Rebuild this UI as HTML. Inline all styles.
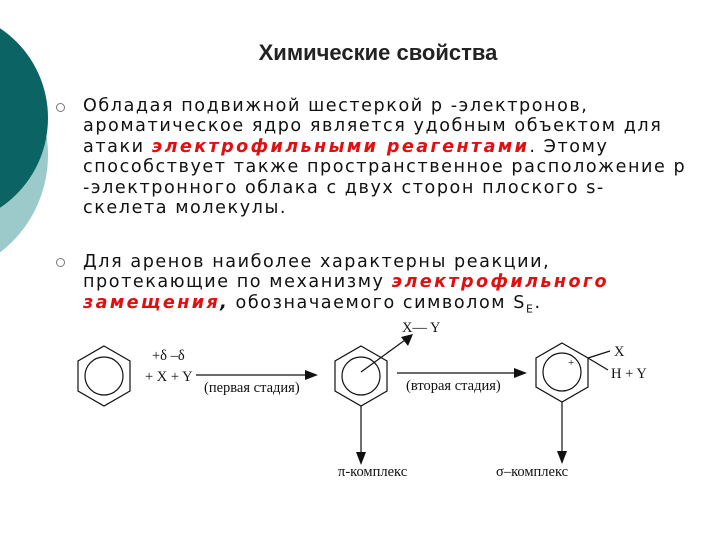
<!DOCTYPE html>
<html><head><meta charset="utf-8"><style>
body{margin:0;width:720px;height:540px;background:#fff;overflow:hidden;position:relative;font-family:"DejaVu Sans",Verdana,sans-serif}
.t{position:absolute;left:0;top:40px;width:756px;text-align:center;font:bold 22px "Liberation Sans",Arial,sans-serif;color:#222}
.p{position:absolute;left:83px;font-size:17.6px;line-height:20.4px;color:#111;white-space:pre;letter-spacing:1.55px}
.r{color:#e01010;font-weight:bold;font-style:italic;letter-spacing:2.4px}
.b{position:absolute;left:56px;width:7px;height:7px;border:1px solid #777;border-radius:50%}
svg{position:absolute;left:0;top:0}
</style></head><body>
<svg width="720" height="540">
<circle cx="-75" cy="155" r="123" fill="#9cc9c9"/>
<circle cx="-60" cy="118" r="108" fill="#0b6463"/>
<g fill="none" stroke="#111" stroke-width="1.2">
<polygon points="104,346 130,361 130,391 104,406 78,391 78,361"/>
<circle cx="104" cy="376" r="19"/>
<polygon points="361,346 387,361 387,391 361,406 335,391 335,361"/>
<circle cx="361" cy="376" r="19"/>
<polygon points="562,343 588,358 588,387 562,402 536,387 536,358"/>
<circle cx="562" cy="372" r="19"/>
<line x1="196" y1="375" x2="308" y2="375"/>
<line x1="397" y1="373" x2="518" y2="373"/>
<line x1="361" y1="372" x2="405" y2="340"/>
<line x1="361" y1="406" x2="361" y2="456"/>
<line x1="562" y1="402" x2="562" y2="455"/>
<line x1="588" y1="358" x2="610" y2="351"/>
<line x1="588" y1="358" x2="608" y2="370"/>
</g>
<g fill="#111">
<polygon points="318,375 305,370 305,380"/>
<polygon points="527,373 514,368 514,378"/>
<polygon points="413,334 401,337 408,346"/>
<polygon points="361,465 356,452 366,452"/>
<polygon points="562,464 557,451 567,451"/>
</g>
<g font-family="Liberation Serif,serif" font-size="14.5" fill="#111">
<text x="152" y="360">+δ  –δ</text>
<text x="145" y="381">+ X + Y</text>
<text x="204" y="392">(первая стадия)</text>
<text x="406" y="390">(вторая стадия)</text>
<text x="402" y="332">X— Y</text>
<text x="614" y="356">X</text>
<text x="611" y="378">H + Y</text>
<text x="338" y="476">π-комплекс</text>
<text x="496" y="476">σ–комплекс</text>
<text x="568" y="366" font-size="11">+</text>
</g>
</svg>
<div class="t">Химические свойства</div>
<div class="b" style="top:103px"></div>
<div class="b" style="top:258px"></div>
<div class="p" style="top:96px">Обладая подвижной шестеркой p -электронов,
ароматическое ядро является удобным объектом для
атаки <span class="r">электрофильными реагентами</span>. Этому
способствует также пространственное расположение p
-электронного облака с двух сторон плоского s-
скелета молекулы.</div>
<div class="p" style="top:252px">Для аренов наиболее характерны реакции,
протекающие по механизму <span class="r">электрофильного
замещения</span><b><i>,</i></b> обозначаемого символом S<sub style="font-size:11px">E</sub>.</div>
</body></html>
